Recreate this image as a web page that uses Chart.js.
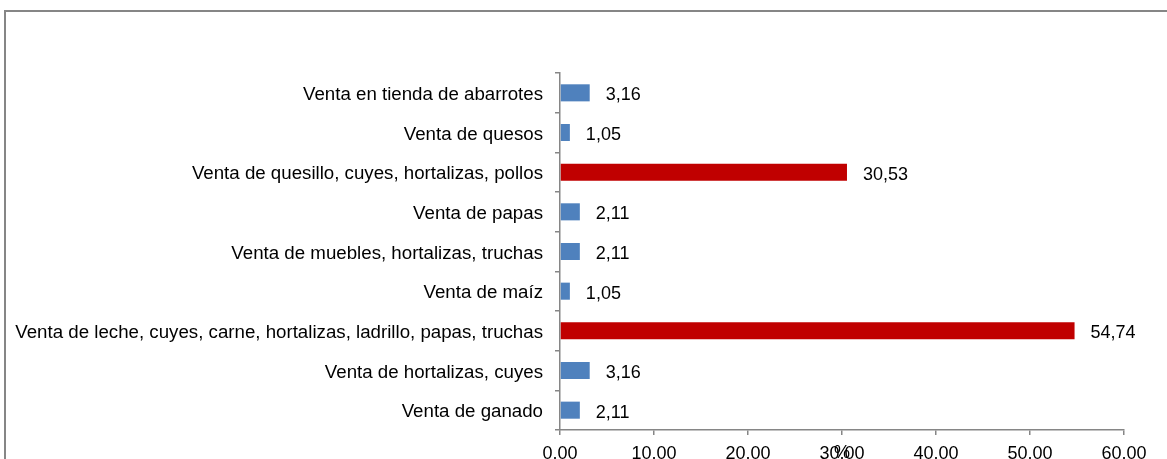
<!DOCTYPE html>
<html>
<head>
<meta charset="utf-8">
<script src="https://cdn.jsdelivr.net/npm/chart.js@4/dist/chart.umd.min.js"></script>
<style>
  html, body { margin: 0; padding: 0; background: #fff; }
  #wrap { width: 1167px; height: 459px; position: relative; }
</style>
</head>
<body>
<div id="wrap"><canvas id="chart"></canvas></div>
<script>
// categories, top to bottom as in the picture
var categories = [
  'Venta en tienda de abarrotes',
  'Venta de quesos',
  'Venta de quesillo, cuyes, hortalizas, pollos',
  'Venta de papas',
  'Venta de muebles, hortalizas, truchas',
  'Venta de maíz',
  'Venta de leche, cuyes, carne, hortalizas, ladrillo, papas, truchas',
  'Venta de hortalizas, cuyes',
  'Venta de ganado'
];
var percentages = [3.16, 1.05, 30.53, 2.11, 2.11, 1.05, 54.74, 3.16, 2.11];
var highlighted = [false, false, true, false, false, false, true, false, false];
var xTicks = [0, 10, 20, 30, 40, 50, 60];
var axisTitle = '%';

var BLUE = '#4F81BD';
var RED = '#C00000';
var GREY = '#868686';
var FONT = '"Liberation Sans", Arial, sans-serif';
var SIZE = 18;

Chart.defaults.font.family = FONT;
Chart.defaults.color = '#000';

// frame lines, value labels and the "%" title
var extras = {
  id: 'extras',
  afterDraw: function (chart) {
    var ctx = chart.ctx;
    ctx.save();
    ctx.strokeStyle = GREY;
    ctx.lineWidth = 2;
    ctx.beginPath();
    ctx.moveTo(5, 459);
    ctx.lineTo(5, 11);
    ctx.lineTo(1167, 11);
    ctx.stroke();

    ctx.font = SIZE + 'px ' + FONT;
    ctx.fillStyle = '#000';
    ctx.textBaseline = 'middle';
    ctx.textAlign = 'left';
    var meta = chart.getDatasetMeta(0);
    meta.data.forEach(function (bar, i) {
      var txt = percentages[i].toFixed(2).replace('.', ',');
      ctx.fillText(txt, bar.x + 16, bar.y + 2.5);
    });

    var xs = chart.scales.x;
    ctx.textAlign = 'center';
    ctx.fillText(axisTitle, (xs.left + xs.right) / 2, 453);
    ctx.restore();
  }
};

new Chart(document.getElementById('chart'), {
  type: 'bar',
  data: {
    labels: categories,
    datasets: [{
      data: percentages,
      backgroundColor: highlighted.map(function (h) { return h ? RED : BLUE; }),
      barPercentage: 0.86,
      categoryPercentage: 0.5
    }]
  },
  options: {
    indexAxis: 'y',
    responsive: true,
    maintainAspectRatio: false,
    animation: false,
    layout: { padding: { top: 73, right: 43, bottom: 0, left: 0 } },
    plugins: {
      legend: { display: false },
      tooltip: { enabled: false }
    },
    scales: {
      x: {
        min: 0,
        max: 60,
        afterBuildTicks: function (s) { s.ticks = xTicks.map(function (v) { return { value: v }; }); },
        afterFit: function (s) { s.height = 29; },
        grid: { drawOnChartArea: false, drawTicks: true, tickLength: 5, color: GREY, lineWidth: 1.5 },
        border: { color: GREY, width: 1.5 },
        ticks: {
          font: { size: SIZE },
          color: '#000',
          padding: 8,
          maxRotation: 0,
          callback: function (v) { return Number(v).toFixed(2); }
        }
      },
      y: {
        afterFit: function (s) { s.width = 560; },
        grid: { drawOnChartArea: false, drawTicks: true, tickLength: 5, color: GREY, lineWidth: 1.5, offset: true },
        border: { color: GREY, width: 1.5 },
        ticks: { font: { size: 18.7 }, color: '#000', padding: 12, labelOffset: 2 }
      }
    }
  },
  plugins: [extras]
});
</script>
</body>
</html>
